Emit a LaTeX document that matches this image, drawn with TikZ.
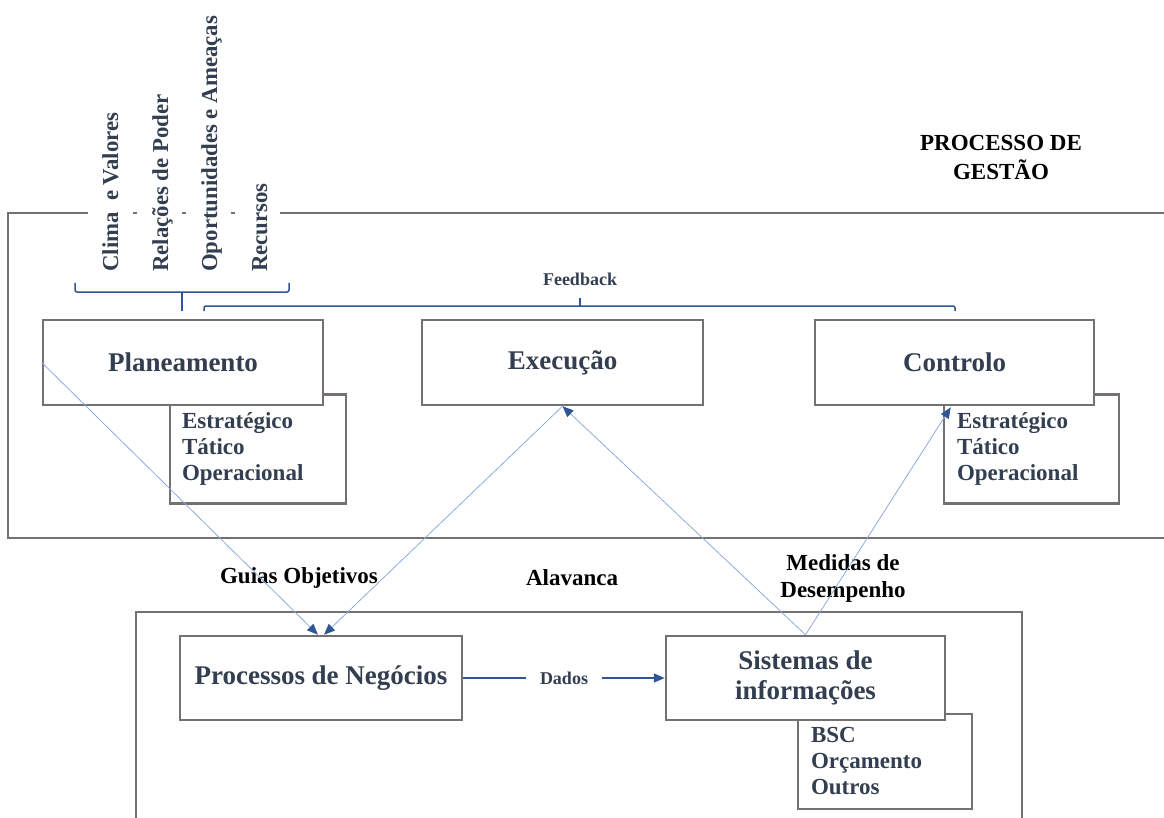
\documentclass[tikz,border=0pt]{standalone}
\usepackage{fontspec}
\setmainfont{Liberation Serif}
\usetikzlibrary{arrows.meta,calc}
\definecolor{boxgray}{HTML}{767171}
\definecolor{slate}{HTML}{333F50}
\definecolor{darkblue}{HTML}{2F5597}
\definecolor{lightblue}{HTML}{8FAADC}

\begin{document}
\begin{tikzpicture}[x=1pt,y=-1pt,
  box/.style={draw=boxgray, line width=2.5pt, fill=white, text=slate,
    font=\bfseries\fontsize{27}{30}\selectfont, align=center, inner sep=0pt},
  subbox/.style={draw=boxgray, line width=2.5pt, fill=white, text=slate,
    font=\bfseries\fontsize{23}{26}\selectfont, align=left, inner ysep=0pt},
  frame/.style={draw=boxgray, line width=2pt},
  note/.style={font=\bfseries\fontsize{23}{27}\selectfont, align=center, text=black},
  small/.style={font=\bfseries\fontsize{18}{20}\selectfont, text=slate},
  factor/.style={rotate=90, anchor=base west, text=slate,
    font=\bfseries\fontsize{22.8}{24}\selectfont, inner sep=0pt},
  link/.style={draw=lightblue, line width=0.8pt,
    -{Triangle[length=11pt,width=9pt,color=darkblue]}},
  bracket/.style={draw=darkblue, line width=1.5pt},
]
\useasboundingbox (0,0) rectangle (1164,818);

% outer frame of the management process
\draw[frame] (88,213) -- (8,213) -- (8,538) -- (1170,538);
\draw[frame] (280,213) -- (1170,213);
\foreach \x in {135,184,233} \draw[frame] (\x-2,213) -- (\x+2,213);

% lower frame
\draw[frame] (136,830) -- (136,612) -- (1022,612) -- (1022,830);

% environmental factors
\node[factor] (clima) at (118,272) {Clima\ \ e Valores};
\node[factor] (poder) at (168,272) {Relações de Poder};
\node[factor] (oport) at (217,272) {Oportunidades e Ameaças};
\node[factor] (recur) at (267,272) {Recursos};

% brackets
\draw[bracket, rounded corners=2pt] (75,283) -- (75,292) -- (289,292) -- (289,283);
\draw[bracket] (182,292) -- (182,311);
\draw[bracket, rounded corners=2pt] (204,311) -- (204,306) -- (955,306) -- (955,311);
\draw[bracket] (580,306) -- (580,298);
\node[small] (feedback) at (580,279) {Feedback};

% title
\node[note, font=\bfseries\fontsize{23}{29}\selectfont] (gestao) at (1001,157) {PROCESSO DE\\GESTÃO};

% upper boxes
\node[subbox, minimum width=176pt, minimum height=109pt, text width=152pt, inner xsep=12pt]
  (plansub) at (258,449) {Estratégico\\Tático\\Operacional};
\node[box, minimum width=280pt, minimum height=85pt] (plan) at (183,362.5) {Planeamento};
\node[box, minimum width=281pt, minimum height=85pt] (exec) at (562.5,362.5) {Execução};
\node[subbox, minimum width=175pt, minimum height=109pt, text width=149pt, inner xsep=13pt]
  (ctrlsub) at (1031.5,449) {Estratégico\\Tático\\Operacional};
\node[box, minimum width=279pt, minimum height=85pt] (ctrl) at (954.5,362.5) {Controlo};

% lower boxes
\node[box, minimum width=282pt, minimum height=84pt] (proc) at (321,678) {Processos de Negócios};
\node[subbox, minimum width=174pt, minimum height=95pt, text width=148pt, inner xsep=13pt]
  (sissub) at (885,761.5) {BSC\\Orçamento\\Outros};
\node[box, minimum width=279pt, minimum height=84pt] (sis) at (805.5,678) {Sistemas de\\informações};

% labels between the frames
\node[note] (guias) at (299,578) {Guias Objetivos};
\node[note] (alav) at (572,578) {Alavanca};
\node[note] (medidas) at (843,578.5) {Medidas de\\Desempenho};

% connectors
\draw[link] (plan.west) -- ($(proc.north)+(-3,0)$);
\draw[link] (exec.south) -- ($(proc.north)+(3,0)$);
\draw[link] (sis.north) -- (exec.south);
\draw[link] (sis.north) -- ($(ctrl.south west)+(137,1)$);
\draw[draw=darkblue, line width=1.5pt, -{Triangle[length=11pt,width=9pt]}]
  (proc.east) -- node[small, fill=white, inner xsep=14pt] (dados) {Dados} (sis.west);
\end{tikzpicture}
\end{document}
